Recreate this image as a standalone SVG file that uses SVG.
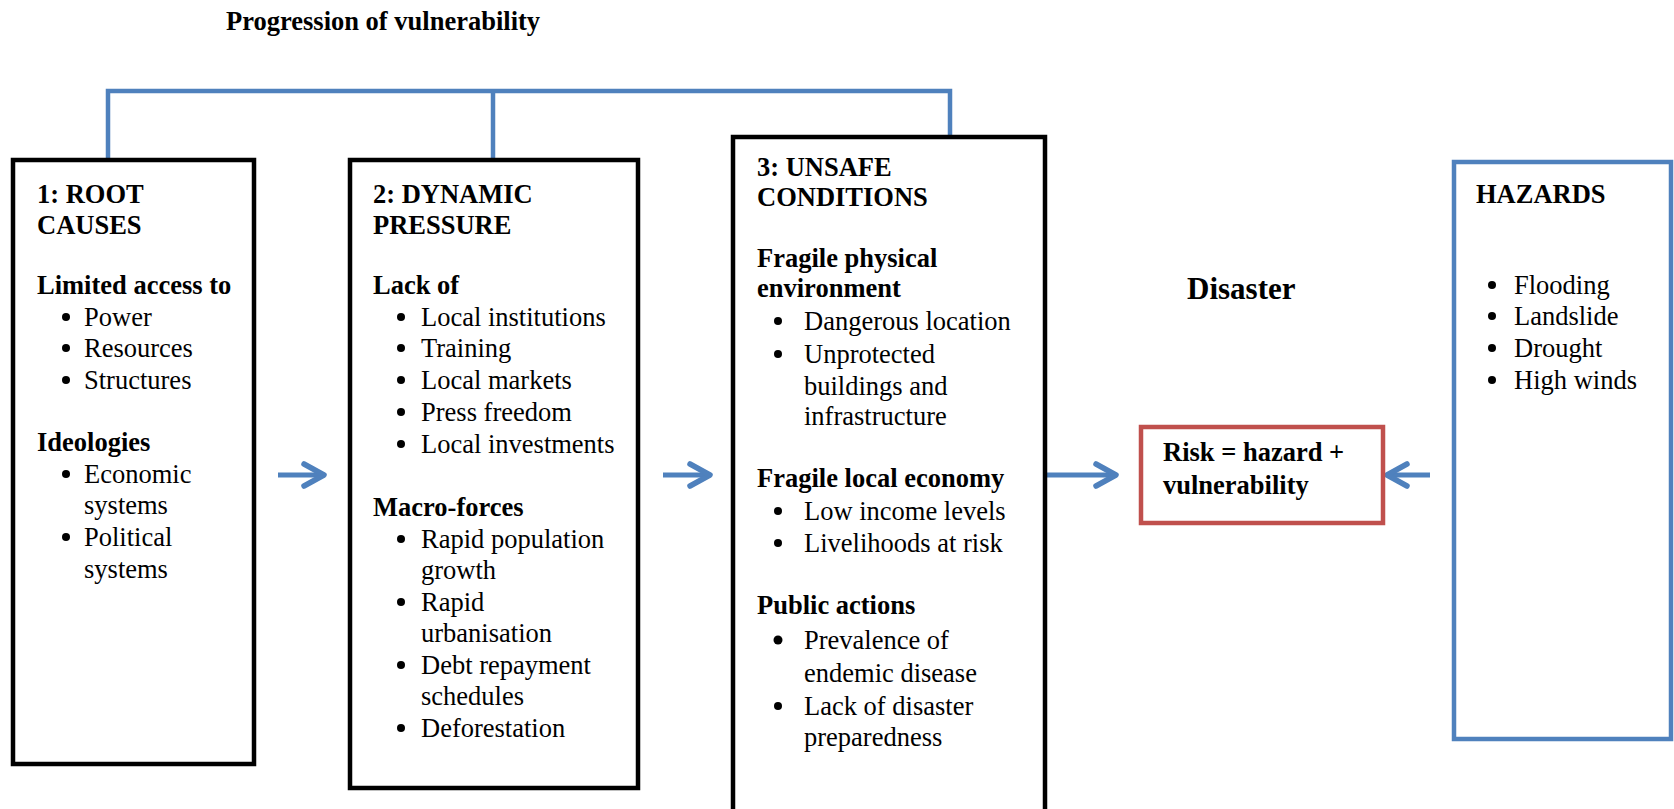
<svg xmlns="http://www.w3.org/2000/svg" width="1674" height="809" viewBox="0 0 1674 809">
<style>
text{font-family:"Liberation Serif","Times New Roman",serif;font-size:26.5px;fill:#000}
.b{font-weight:bold}
.big{font-size:31px;font-weight:bold}
.box{fill:#fff;stroke:#000;stroke-width:4.5}
.hz{fill:#fff;stroke:#4F81BD;stroke-width:4.5}
.risk{fill:#fff;stroke:#C0504D;stroke-width:4.5}
.conn{fill:none;stroke:#4F81BD;stroke-width:4.5;stroke-linecap:butt}
.arr{fill:none;stroke:#4F81BD;stroke-width:5;stroke-linecap:butt}
.dot{fill:#000}
</style>
<defs>
<marker id="ah" viewBox="-26 -15 30 30" refX="0" refY="0" markerWidth="30" markerHeight="30" markerUnits="userSpaceOnUse" orient="auto">
<path d="M-20,-11 L0,0 L-20,11" fill="none" stroke="#4F81BD" stroke-width="5.5" stroke-linecap="round" stroke-linejoin="round"/>
</marker>
</defs>
<rect width="1674" height="809" fill="#fff"/>
<text id="title" class="b" x="226" y="30">Progression of vulnerability</text>

<g id="connectors">
<path class="conn" d="M108,160 V91 H950 V137"/>
<path class="conn" d="M493,91 V160"/>
<line class="arr" x1="278" y1="475" x2="324" y2="475" marker-end="url(#ah)"/>
<line class="arr" x1="663" y1="475" x2="710" y2="475" marker-end="url(#ah)"/>
<line class="arr" x1="1046" y1="475" x2="1116" y2="475" marker-end="url(#ah)"/>
<line class="arr" x1="1430" y1="475" x2="1387" y2="475" marker-end="url(#ah)"/>
</g>

<g id="root-causes">
<rect class="box" x="13" y="160" width="241" height="604"/>
<text class="b" x="37" y="203">1: ROOT</text>
<text class="b" x="37" y="234">CAUSES</text>
<text class="b" x="37" y="294">Limited access to</text>
<circle class="dot" cx="66" cy="317" r="4"/><text x="84" y="326">Power</text>
<circle class="dot" cx="66" cy="348" r="4"/><text x="84" y="357">Resources</text>
<circle class="dot" cx="66" cy="380" r="4"/><text x="84" y="389">Structures</text>
<text class="b" x="37" y="451">Ideologies</text>
<circle class="dot" cx="66" cy="474" r="4"/><text x="84" y="483">Economic</text>
<text x="84" y="514">systems</text>
<circle class="dot" cx="66" cy="537" r="4"/><text x="84" y="546">Political</text>
<text x="84" y="578">systems</text>
</g>

<g id="dynamic-pressure">
<rect class="box" x="350" y="160" width="288" height="628"/>
<text class="b" x="373" y="203">2: DYNAMIC</text>
<text class="b" x="373" y="234">PRESSURE</text>
<text class="b" x="373" y="294">Lack of</text>
<circle class="dot" cx="401" cy="317" r="4"/><text x="421" y="326">Local institutions</text>
<circle class="dot" cx="401" cy="348" r="4"/><text x="421" y="357">Training</text>
<circle class="dot" cx="401" cy="380" r="4"/><text x="421" y="389">Local markets</text>
<circle class="dot" cx="401" cy="412" r="4"/><text x="421" y="421">Press freedom</text>
<circle class="dot" cx="401" cy="444" r="4"/><text x="421" y="453">Local investments</text>
<text class="b" x="373" y="516">Macro-forces</text>
<circle class="dot" cx="401" cy="539" r="4"/><text x="421" y="548">Rapid population</text>
<text x="421" y="579">growth</text>
<circle class="dot" cx="401" cy="602" r="4"/><text x="421" y="611">Rapid</text>
<text x="421" y="642">urbanisation</text>
<circle class="dot" cx="401" cy="665" r="4"/><text x="421" y="674">Debt repayment</text>
<text x="421" y="705">schedules</text>
<circle class="dot" cx="401" cy="728" r="4"/><text x="421" y="737">Deforestation</text>
</g>

<g id="unsafe-conditions">
<rect class="box" x="733" y="137" width="312" height="700"/>
<text class="b" x="757" y="176">3: UNSAFE</text>
<text class="b" x="757" y="206">CONDITIONS</text>
<text class="b" x="757" y="267">Fragile physical</text>
<text class="b" x="757" y="297">environment</text>
<circle class="dot" cx="778" cy="321" r="4"/><text x="804" y="330">Dangerous location</text>
<circle class="dot" cx="778" cy="354" r="4"/><text x="804" y="363">Unprotected</text>
<text x="804" y="395">buildings and</text>
<text x="804" y="425">infrastructure</text>
<text class="b" x="757" y="487">Fragile local economy</text>
<circle class="dot" cx="778" cy="511" r="4"/><text x="804" y="520">Low income levels</text>
<circle class="dot" cx="778" cy="543" r="4"/><text x="804" y="552">Livelihoods at risk</text>
<text class="b" x="757" y="614">Public actions</text>
<circle class="dot" cx="778" cy="640" r="4.5"/><text x="804" y="649">Prevalence of</text>
<text x="804" y="682">endemic disease</text>
<circle class="dot" cx="778" cy="706" r="4"/><text x="804" y="715">Lack of disaster</text>
<text x="804" y="746">preparedness</text>
</g>

<g id="disaster">
<text class="big" x="1187" y="299">Disaster</text>
</g>

<g id="risk">
<rect class="risk" x="1141" y="427" width="242" height="96"/>
<text class="b" x="1163" y="461">Risk = hazard +</text>
<text class="b" x="1163" y="494">vulnerability</text>
</g>

<g id="hazards">
<rect class="hz" x="1454" y="162" width="217" height="577"/>
<text class="b" x="1476" y="203">HAZARDS</text>
<circle class="dot" cx="1492" cy="285" r="4"/><text x="1514" y="294">Flooding</text>
<circle class="dot" cx="1492" cy="316" r="4"/><text x="1514" y="325">Landslide</text>
<circle class="dot" cx="1492" cy="348" r="4"/><text x="1514" y="357">Drought</text>
<circle class="dot" cx="1492" cy="380" r="4"/><text x="1514" y="389">High winds</text>
</g>
</svg>
